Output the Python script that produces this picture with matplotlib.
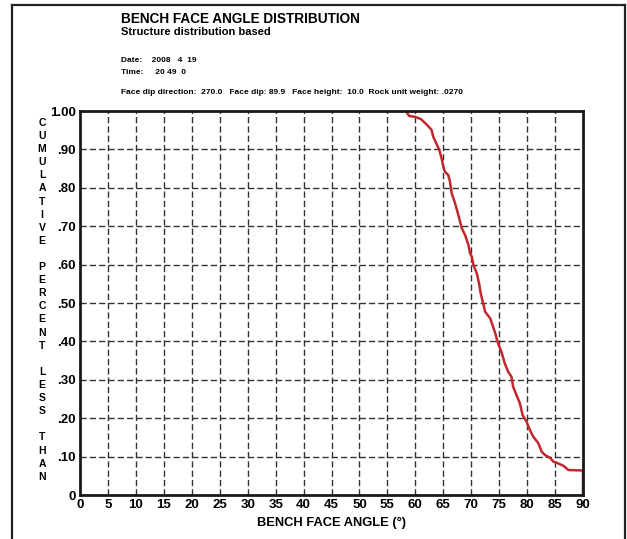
import matplotlib
matplotlib.use('Agg')
import matplotlib.pyplot as plt
from matplotlib.lines import Line2D

# cumulative distribution of bench face angle
angles = [58.3, 58.9, 59.9, 61.0, 62.0, 62.9, 63.2, 63.9, 64.3, 64.7, 65.0, 65.3,
          65.9, 66.2, 66.5, 67.1, 67.7, 68.3, 68.9, 69.5, 69.8, 70.1, 70.4, 71.0,
          71.4, 71.7, 72.2, 72.5, 73.4, 73.8, 74.3, 74.8, 75.4, 76.0, 76.6, 77.2,
          77.5, 78.1, 78.7, 79.2, 79.9, 80.5, 81.1, 82.0, 82.6, 83.2, 84.1, 84.7,
          85.6, 86.5, 87.4, 89.7, 90.0, 90.0]
cum_pct = [1.0, 0.987, 0.985, 0.979, 0.965, 0.951, 0.933, 0.911, 0.898, 0.877, 0.855, 0.842,
           0.833, 0.816, 0.786, 0.760, 0.729, 0.695, 0.677, 0.651, 0.629, 0.621, 0.599, 0.577,
           0.551, 0.525, 0.495, 0.477, 0.460, 0.443, 0.421, 0.395, 0.373, 0.343, 0.321, 0.308,
           0.282, 0.260, 0.239, 0.208, 0.191, 0.169, 0.152, 0.135, 0.113, 0.104, 0.097, 0.087,
           0.082, 0.076, 0.065, 0.064, 0.063, 0.0]

xticks = list(range(0, 91, 5))
yticks = [0, .1, .2, .3, .4, .5, .6, .7, .8, .9, 1.0]
ytick_labels = ['0', '.10', '.20', '.30', '.40', '.50', '.60', '.70', '.80', '.90', '1.00']
ylabel_words = ['CUMULATIVE', 'PERCENT', 'LESS', 'THAN']

title = 'BENCH FACE ANGLE DISTRIBUTION'
subtitle = 'Structure distribution based'
info_lines = ['Date:    2008   4  19',
              'Time:     20 49  0',
              'Face dip direction:  270.0   Face dip: 89.9   Face height:  10.0  Rock unit weight: .0270']

FONT = 'Liberation Sans'
W, H = 627, 539
fig = plt.figure(figsize=(W/100, H/100), dpi=100)

# axes box in pixels: left 80, right 583, top 111, bottom 495
ax = fig.add_axes([80/W, (H-495)/H, (583-80)/W, (495-111)/H])
ax.set_xlim(0, 90)
ax.set_ylim(0, 1)

for x in xticks[1:-1]:
    ax.axvline(x, color='#333333', lw=1.0, dashes=(4.5, 2.2), zorder=1)
for y in yticks[1:-1]:
    ax.axhline(y, color='#333333', lw=1.0, dashes=(4.5, 2.2), zorder=1)

ax.plot(angles, cum_pct, color='#C1272D', lw=1.8, zorder=2)

for s in ax.spines.values():
    s.set_linewidth(2.0)
    s.set_color('#1a1a1a')
    s.set_zorder(3)

ax.set_xticks(xticks)
ax.set_xticklabels([str(v) for v in xticks], family=FONT, weight='bold', fontsize=9.5)
ax.set_yticks(yticks)
ax.set_yticklabels(ytick_labels, family=FONT, weight='bold', fontsize=9.5)
ax.tick_params(length=0, pad=3)
ax.set_xlabel('BENCH FACE ANGLE (°)', family=FONT, weight='bold', fontsize=9.3, labelpad=4)

# stacked vertical y label, one letter per line
step = 13.1
ypix = 123
for word in ylabel_words:
    for ch in word:
        fig.text(42/W, 1 - ypix/H, ch, ha='center', va='center',
                 family=FONT, weight='bold', fontsize=7.5)
        ypix += step
    ypix += step

# header
fig.text(121/W, 1 - 19/H, title, ha='left', va='center', family=FONT, weight='bold', fontsize=9.8)
fig.text(121/W, 1 - 32/H, subtitle, ha='left', va='center', family=FONT, weight='bold', fontsize=8)
for txt, yp in zip(info_lines, [61, 73, 93]):
    fig.text(121/W, 1 - yp/H, txt, ha='left', va='center', family=FONT, weight='bold', fontsize=6.0)

# outer frame, open at the bottom
frame = dict(color='#222222', lw=1.6, transform=fig.transFigure)
fig.add_artist(Line2D([12/W, 12/W], [0, 1 - 5/H], **frame))
fig.add_artist(Line2D([12/W, 625/W], [1 - 5/H, 1 - 5/H], **frame))
fig.add_artist(Line2D([625/W, 625/W], [0, 1 - 5/H], **frame))

fig.savefig('out.png', dpi=100)
